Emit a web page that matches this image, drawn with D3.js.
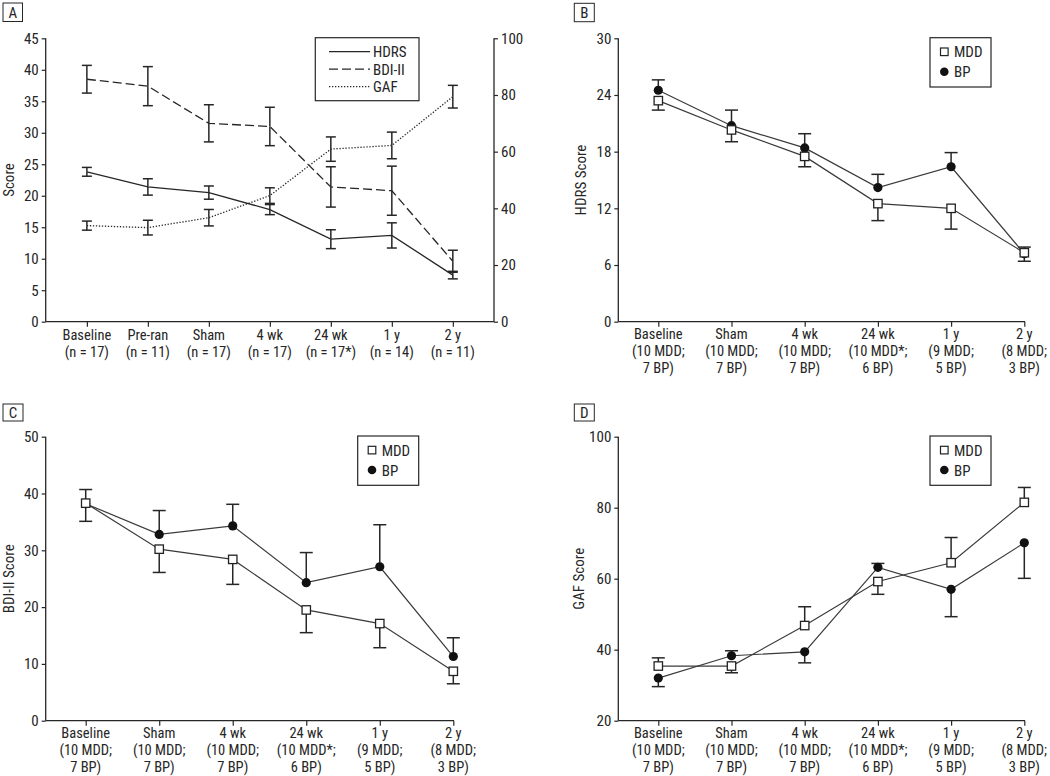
<!DOCTYPE html>
<html><head><meta charset="utf-8">
<script src="https://cdn.jsdelivr.net/npm/d3@7"></script>
<style>
body{margin:0;background:#fff;}
svg text{font-family:"Liberation Sans Narrow","Arial Narrow","Roboto Condensed","DejaVu Sans Condensed",sans-serif;fill:#262626;}
</style></head><body>
<svg id="c" width="1050" height="776"></svg>
<script>
// ---------- Data ----------
const catsA = ["Baseline","Pre-ran","Sham","4 wk","24 wk","1 y","2 y"];
const nA = ["(n = 17)","(n = 11)","(n = 17)","(n = 17)","(n = 17*)","(n = 14)","(n = 11)"];
const hdrsA = [23.8, 21.4, 20.5, 17.8, 13.1, 13.7, 7.4];
const hdrsErrA = [0.7, 1.3, 1.05, 0.8, 1.5, 2.0, 0.6];
const bdiA = [38.5, 37.4, 31.5, 31.0, 21.4, 20.8, 9.6];
const bdiErrA = [2.2, 3.1, 2.95, 3.05, 3.2, 3.9, 1.75];
const gafA = [33.9, 33.2, 36.7, 44.5, 60.9, 62.2, 79.4];
const gafErrA = [1.6, 2.6, 2.9, 2.75, 4.3, 4.7, 4.0];
const leftTicksA = [0,5,10,15,20,25,30,35,40,45];
const rightTicksA = [0,20,40,60,80,100];

const catsG = ["Baseline","Sham","4 wk","24 wk","1 y","2 y"];
const nMddG = ["(10 MDD;","(10 MDD;","(10 MDD;","(10 MDD*;","(9 MDD;","(8 MDD;"];
const nBpG = ["7 BP)","7 BP)","7 BP)","6 BP)","5 BP)","3 BP)"];

const hdrsMDD = [23.4, 20.3, 17.5, 12.5, 12.0, 7.3];
const hdrsMDDErr = [-1.0, -1.25, -1.1, -1.8, -2.2, -0.9];
const hdrsBP = [24.5, 20.75, 18.4, 14.2, 16.4, 7.2];
const hdrsBPErr = [1.1, 1.65, 1.5, 1.4, 1.5, 0.7];
const hdrsTicks = [0,6,12,18,24,30];

const bdiMDD = [38.3, 30.2, 28.4, 19.5, 17.1, 8.7];
const bdiMDDErr = [-3.2, -4.1, -4.4, -4.0, -4.25, -2.2];
const bdiBP = [38.2, 32.8, 34.3, 24.3, 27.1, 11.3];
const bdiBPErr = [2.5, 4.2, 3.8, 5.3, 7.4, 3.3];
const bdiTicks = [0,10,20,30,40,50];

const gafMDD = [35.4, 35.4, 46.8, 59.2, 64.5, 81.5];
const gafMDDErr = [2.3, -1.9, 5.3, -3.6, 7.1, 4.2];
const gafBP = [32.0, 38.3, 39.4, 63.2, 57.0, 70.1];
const gafBPErr = [-2.4, 1.4, -3.1, 1.1, -7.7, -10.0];
const gafTicks = [20,40,60,80,100];

// ---------- Drawing ----------
const svg = d3.select("#c");
const INK = "#262626";
const FS = 15;
const XFS = 14.5;
const LH = 16.7;

function panelLabel(x, y, w, h, t){
  svg.append("rect").attr("x",x).attr("y",y).attr("width",w).attr("height",h)
    .attr("fill","none").attr("stroke",INK).attr("stroke-width",1);
  svg.append("text").attr("x",x+w/2).attr("y",y+h/2+5.5).attr("text-anchor","middle")
    .attr("font-size",FS).text(t);
}

function styleAxis(g){
  g.selectAll("path.domain").remove();
  g.selectAll("line").attr("stroke",INK).attr("stroke-width",1.2);
  g.selectAll("text").attr("font-size",FS).attr("fill",INK);
}

function xLabels(g, x, y0, lines){
  const cats = x.domain();
  cats.forEach((c,i)=>{
    lines.forEach((arr,k)=>{
      g.append("text").attr("text-anchor","middle").attr("font-size",XFS)
        .attr("x", x(c)).attr("y", y0 + k*LH).text(arr[i]);
    });
  });
}

function errBar(g, x, y1, y2, hw){
  g.append("line").attr("x1",x).attr("x2",x).attr("y1",y1).attr("y2",y2)
    .attr("stroke",INK).attr("stroke-width",1.5);
  g.append("line").attr("x1",x-hw).attr("x2",x+hw).attr("y1",y2).attr("y2",y2)
    .attr("stroke",INK).attr("stroke-width",1.5);
}

// ===== Panel A =====
(function(){
  const L = 45.7, R = 494, T = 38.3, B = 321.7;
  const x = d3.scalePoint().domain(catsA).range([L,R]).padding(0.675);
  const y = d3.scaleLinear().domain([0,45]).range([B,T]);
  const y2 = d3.scaleLinear().domain([0,100]).range([B,T]);
  const g = svg.append("g");

  g.append("line").attr("x1",L).attr("x2",L).attr("y1",T).attr("y2",B).attr("stroke",INK).attr("stroke-width",1.3);
  g.append("line").attr("x1",R).attr("x2",R).attr("y1",T).attr("y2",B).attr("stroke",INK).attr("stroke-width",1.3);
  g.append("line").attr("x1",L).attr("x2",R).attr("y1",B).attr("y2",B).attr("stroke",INK).attr("stroke-width",1.3);

  const ya = g.append("g").attr("transform",`translate(${L},0)`)
    .call(d3.axisLeft(y).tickValues(leftTicksA).tickSize(4).tickPadding(3));
  styleAxis(ya);
  const yb = g.append("g").attr("transform",`translate(${R},0)`)
    .call(d3.axisRight(y2).tickValues(rightTicksA).tickSize(4).tickPadding(3));
  styleAxis(yb);
  const xa = g.append("g").attr("transform",`translate(0,${B})`)
    .call(d3.axisBottom(x).tickSize(5).tickFormat(""));
  styleAxis(xa);
  xLabels(g, x, B+18.5, [catsA, nA]);

  g.append("text").attr("transform",`translate(14,180) rotate(-90)`).attr("text-anchor","middle")
    .attr("font-size",FS).text("Score");

  const series = [
    {v:hdrsA, e:hdrsErrA, s:y, dash:null},
    {v:bdiA, e:bdiErrA, s:y, dash:"9,4"},
    {v:gafA, e:gafErrA, s:y2, dash:"1.3,1.7"}
  ];
  series.forEach(se=>{
    se.v.forEach((v,i)=>{
      const cx = x(catsA[i]);
      errBar(g, cx, se.s(v), se.s(v+se.e[i]), 5);
      errBar(g, cx, se.s(v), se.s(v-se.e[i]), 5);
    });
  });
  series.forEach(se=>{
    const line = d3.line().x((d,i)=>x(catsA[i])).y(d=>se.s(d));
    g.append("path").attr("d",line(se.v)).attr("fill","none").attr("stroke",INK)
      .attr("stroke-width",1.3).attr("stroke-dasharray",se.dash);
  });

  const lg = g.append("g");
  lg.append("rect").attr("x",315.3).attr("y",37.7).attr("width",103.7).attr("height",63)
    .attr("fill","#fff").attr("stroke",INK).attr("stroke-width",1.2);
  const names = ["HDRS","BDI-II","GAF"];
  names.forEach((n,k)=>{
    const yy = 51.7 + k*17.5;
    lg.append("line").attr("x1",329).attr("x2",370).attr("y1",yy).attr("y2",yy)
      .attr("stroke",INK).attr("stroke-width",1.3).attr("stroke-dasharray",series[k].dash);
    lg.append("text").attr("x",373).attr("y",yy+5.5).attr("font-size",FS).text(n);
  });
  panelLabel(3,3,19.5,18.5,"A");
})();

// ===== Generic group panel =====
function groupPanel(cfg){
  const {L, T, B, lastX, dom, ticks, label, mdd, mddE, bp, bpE, lab, labBox, legend, ylx} = cfg;
  const x = d3.scalePoint().domain(catsG).range([L+40, lastX]);
  const y = d3.scaleLinear().domain(dom).range([B,T]);
  const g = svg.append("g");
  g.append("line").attr("x1",L).attr("x2",L).attr("y1",T).attr("y2",B).attr("stroke",INK).attr("stroke-width",1.3);
  g.append("line").attr("x1",L).attr("x2",lastX+0.7).attr("y1",B).attr("y2",B).attr("stroke",INK).attr("stroke-width",1.3);
  const ya = g.append("g").attr("transform",`translate(${L},0)`)
    .call(d3.axisLeft(y).tickValues(ticks).tickSize(4).tickPadding(3));
  styleAxis(ya);
  const xa = g.append("g").attr("transform",`translate(0,${B})`)
    .call(d3.axisBottom(x).tickSize(5).tickFormat(""));
  styleAxis(xa);
  xLabels(g, x, B+17.5, [catsG, nMddG, nBpG]);
  g.append("text").attr("transform",`translate(${ylx},${(T+B)/2}) rotate(-90)`).attr("text-anchor","middle")
    .attr("font-size",FS).text(label);

  [[mdd,mddE],[bp,bpE]].forEach(([v,e])=>{
    v.forEach((d,i)=>errBar(g, x(catsG[i]), y(d), y(d+e[i]), 6.5));
  });
  const line = d3.line().x((d,i)=>x(catsG[i])).y(d=>y(d));
  g.append("path").attr("d",line(mdd)).attr("fill","none").attr("stroke","#3a3a3a").attr("stroke-width",1.2);
  g.append("path").attr("d",line(bp)).attr("fill","none").attr("stroke","#3a3a3a").attr("stroke-width",1.2);
  g.selectAll("circle.bp").data(bp).enter().append("circle")
    .attr("cx",(d,i)=>x(catsG[i])).attr("cy",d=>y(d)).attr("r",4.6).attr("fill","#111");
  g.selectAll("rect.mdd").data(mdd).enter().append("rect")
    .attr("x",(d,i)=>x(catsG[i])-4.2).attr("y",d=>y(d)-4.2).attr("width",8.4).attr("height",8.4)
    .attr("fill","#fff").attr("stroke","#222").attr("stroke-width",1.3);

  const [lx, ly] = legend;
  g.append("rect").attr("x",lx).attr("y",ly).attr("width",61).attr("height",49.3)
    .attr("fill","none").attr("stroke",INK).attr("stroke-width",1.2);
  g.append("rect").attr("x",lx+10.5).attr("y",ly+10.3).attr("width",7.6).attr("height",7.6)
    .attr("fill","#fff").attr("stroke","#222").attr("stroke-width",1.2);
  g.append("text").attr("x",lx+24).attr("y",ly+19.5).attr("font-size",FS).text("MDD");
  g.append("circle").attr("cx",lx+14.3).attr("cy",ly+34).attr("r",4.3).attr("fill","#111");
  g.append("text").attr("x",lx+24).attr("y",ly+39.5).attr("font-size",FS).text("BP");

  panelLabel(labBox[0], labBox[1], 20, labBox[2], lab);
}

groupPanel({L:618.3, T:38.3, B:321.7, lastX:1024.3, dom:[0,30], ticks:hdrsTicks, label:"HDRS Score",
  mdd:hdrsMDD, mddE:hdrsMDDErr, bp:hdrsBP, bpE:hdrsBPErr, lab:"B", labBox:[574.3,3.3,18.4],
  legend:[930,37.7], ylx:586});
groupPanel({L:45.7, T:436.7, B:720.7, lastX:453.3, dom:[0,50], ticks:bdiTicks, label:"BDI-II Score",
  mdd:bdiMDD, mddE:bdiMDDErr, bp:bdiBP, bpE:bdiBPErr, lab:"C", labBox:[3,404,17],
  legend:[357.7,436], ylx:14});
groupPanel({L:618.3, T:436.7, B:720.7, lastX:1024.3, dom:[20,100], ticks:gafTicks, label:"GAF Score",
  mdd:gafMDD, mddE:gafMDDErr, bp:gafBP, bpE:gafBPErr, lab:"D", labBox:[574.3,404,17],
  legend:[930,436], ylx:584});
</script>
</body></html>
